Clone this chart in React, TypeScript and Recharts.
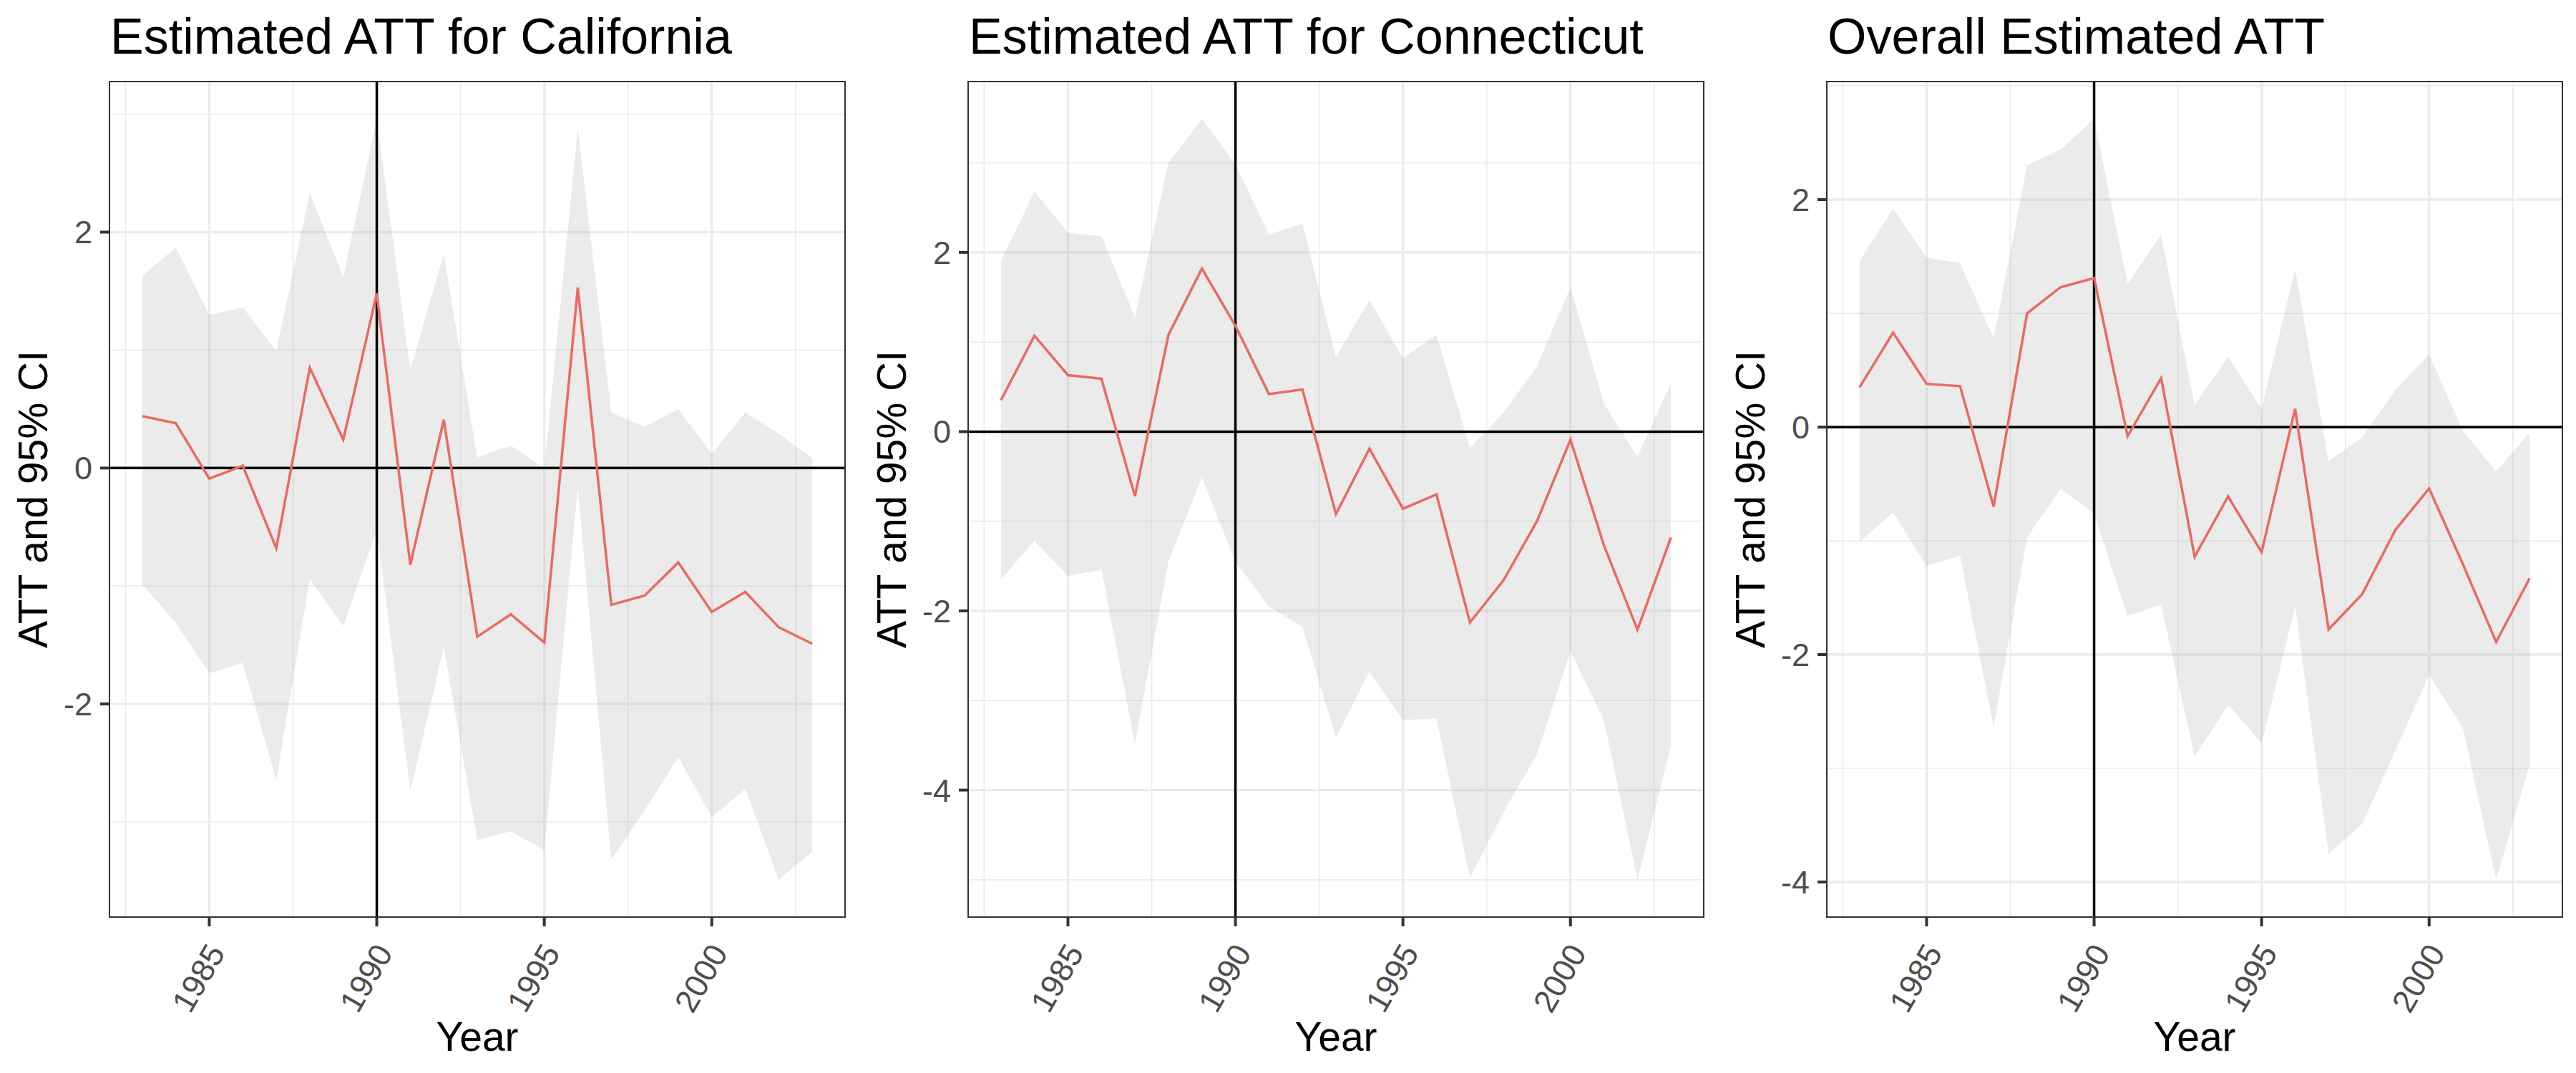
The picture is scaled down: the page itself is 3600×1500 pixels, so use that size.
import { ComposedChart, Line, Area, XAxis, YAxis, CartesianGrid, ReferenceLine } from 'recharts';

document.body.style.margin = '0';

const years = [1983, 1984, 1985, 1986, 1987, 1988, 1989, 1990, 1991, 1992, 1993, 1994, 1995, 1996, 1997, 1998, 1999, 2000, 2001, 2002, 2003];

const caAtt = [0.44, 0.38, -0.09, 0.02, -0.68, 0.85, 0.24, 1.48, -0.82, 0.41, -1.43, -1.24, -1.48, 1.53, -1.16, -1.08, -0.8, -1.22, -1.05, -1.35, -1.49];
const caUpper = [1.63, 1.87, 1.3, 1.36, 0.99, 2.33, 1.62, 2.96, 0.83, 1.81, 0.09, 0.19, 0.0, 2.88, 0.47, 0.35, 0.5, 0.12, 0.47, 0.29, 0.08];
const caLower = [-0.99, -1.31, -1.74, -1.65, -2.64, -0.94, -1.34, -0.52, -2.74, -1.52, -3.15, -3.08, -3.24, -0.16, -3.32, -2.9, -2.45, -2.96, -2.72, -3.49, -3.25];

const ctAtt = [0.35, 1.07, 0.63, 0.59, -0.72, 1.08, 1.82, 1.18, 0.42, 0.47, -0.92, -0.19, -0.86, -0.7, -2.13, -1.66, -1.0, -0.09, -1.27, -2.21, -1.18];
const ctUpper = [1.9, 2.68, 2.22, 2.18, 1.28, 3.0, 3.49, 2.98, 2.2, 2.32, 0.83, 1.47, 0.82, 1.08, -0.18, 0.21, 0.73, 1.61, 0.31, -0.28, 0.54];
const ctLower = [-1.65, -1.22, -1.61, -1.54, -3.48, -1.45, -0.51, -1.45, -1.95, -2.18, -3.41, -2.68, -3.22, -3.2, -4.98, -4.25, -3.6, -2.45, -3.22, -5.0, -3.5];

const allAtt = [0.35, 0.83, 0.38, 0.36, -0.7, 1.0, 1.23, 1.31, -0.08, 0.43, -1.14, -0.61, -1.1, 0.16, -1.78, -1.47, -0.9, -0.54, -1.2, -1.89, -1.33];
const allUpper = [1.46, 1.92, 1.49, 1.44, 0.78, 2.3, 2.44, 2.71, 1.26, 1.69, 0.19, 0.62, 0.16, 1.39, -0.3, -0.09, 0.33, 0.64, -0.03, -0.39, -0.05];
const allLower = [-1.01, -0.75, -1.22, -1.13, -2.64, -0.97, -0.54, -0.76, -1.66, -1.56, -2.9, -2.44, -2.78, -1.58, -3.75, -3.49, -2.84, -2.18, -2.64, -3.98, -2.97];

const xTicks = [1985, 1990, 1995, 2000];
const xMinor = [1982.5, 1987.5, 1992.5, 1997.5, 2002.5];
const xDomain = [1982, 2004];

const caYTicks = [-2, 0, 2];
const caYMinor = [-3, -1, 1, 3];
const ctYTicks = [-4, -2, 0, 2];
const ctYMinor = [-5, -3, -1, 1, 3];
const allYTicks = [-4, -2, 0, 2];
const allYMinor = [-3, -1, 1, 3];

const treatYear = 1990;

const FONT = '"Liberation Sans", Arial, Helvetica, sans-serif';
const W = 1200;
const H = 1500;
const PLOT = { left: 152, top: 113, right: 1182, bottom: 1283 };

function buildRows(att: number[], lower: number[], upper: number[]) {
  return years.map((year, i) => ({ year, att: att[i], band: [lower[i], upper[i]] }));
}

// ggplot-style 5% expansion of the data range
function expand(lower: number[], upper: number[]) {
  const lo = Math.min(...lower);
  const hi = Math.max(...upper);
  const pad = (hi - lo) * 0.05;
  return [lo - pad, hi + pad];
}

function XTick(props: any) {
  const { x, y, payload } = props;
  const ax = x + 10;
  const ay = y + 29;
  return (
    <text
      x={ax}
      y={ay}
      transform={`rotate(-60, ${ax}, ${ay})`}
      textAnchor="end"
      dominantBaseline="central"
      fontSize={45}
      fontFamily={FONT}
      fill="#4D4D4D"
    >
      {payload.value}
    </text>
  );
}

function Panel({ title, att, lower, upper, yTicks, yMinor }: {
  title: string; att: number[]; lower: number[]; upper: number[]; yTicks: number[]; yMinor: number[];
}) {
  const rows = buildRows(att, lower, upper);
  const yDomain = expand(lower, upper);
  return (
    <div style={{ position: 'relative', width: W, height: H }}>
      <ComposedChart
        width={W}
        height={H}
        data={rows}
        margin={{ top: PLOT.top, right: W - PLOT.right, bottom: 0, left: 0 }}
      >
        <CartesianGrid stroke="#EBEBEB" strokeWidth={1.7} horizontalValues={yMinor} verticalValues={xMinor} />
        <CartesianGrid stroke="#EBEBEB" strokeWidth={3.3} horizontalValues={yTicks} verticalValues={xTicks} />
        <XAxis
          type="number"
          dataKey="year"
          domain={xDomain}
          ticks={xTicks}
          allowDataOverflow
          height={H - PLOT.bottom}
          axisLine={false}
          tickSize={12}
          tickMargin={0}
          tickLine={{ stroke: '#333333', strokeWidth: 4 }}
          tick={<XTick />}
        />
        <YAxis
          type="number"
          domain={yDomain}
          ticks={yTicks}
          allowDataOverflow
          width={PLOT.left}
          axisLine={false}
          tickSize={12}
          tickMargin={11}
          tickLine={{ stroke: '#333333', strokeWidth: 4 }}
          tick={{ fontSize: 45, fontFamily: FONT, fill: '#4D4D4D' }}
        />
        <Area
          type="linear"
          dataKey="band"
          stroke="none"
          fill="#B0B0B0"
          fillOpacity={0.25}
          isAnimationActive={false}
        />
        <ReferenceLine x={treatYear} stroke="#000000" strokeWidth={3.5} />
        <ReferenceLine y={0} stroke="#000000" strokeWidth={3.5} />
        <Line
          type="linear"
          dataKey="att"
          stroke="#E96A61"
          strokeWidth={3.5}
          dot={false}
          activeDot={false}
          isAnimationActive={false}
        />
      </ComposedChart>
      <svg width={W} height={H} style={{ position: 'absolute', left: 0, top: 0, pointerEvents: 'none' }}>
        <rect
          x={PLOT.left + 1}
          y={PLOT.top + 1}
          width={PLOT.right - PLOT.left - 2}
          height={PLOT.bottom - PLOT.top - 2}
          fill="none"
          stroke="#333333"
          strokeWidth={2}
        />
        <text x={154} y={75} fontSize={70} fontFamily={FONT} fill="#000000">{title}</text>
        <text x={(PLOT.left + PLOT.right) / 2} y={1469} fontSize={57} fontFamily={FONT} fill="#000000" textAnchor="middle">Year</text>
        <text
          x={66}
          y={(PLOT.top + PLOT.bottom) / 2}
          transform={`rotate(-90, 66, ${(PLOT.top + PLOT.bottom) / 2})`}
          fontSize={57}
          fontFamily={FONT}
          fill="#000000"
          textAnchor="middle"
        >
          ATT and 95% CI
        </text>
      </svg>
    </div>
  );
}

export default function App() {
  return (
    <div style={{ display: 'flex', width: 3600, height: 1500, background: '#FFFFFF' }}>
      <Panel title="Estimated ATT for California" att={caAtt} lower={caLower} upper={caUpper} yTicks={caYTicks} yMinor={caYMinor} />
      <Panel title="Estimated ATT for Connecticut" att={ctAtt} lower={ctLower} upper={ctUpper} yTicks={ctYTicks} yMinor={ctYMinor} />
      <Panel title="Overall Estimated ATT" att={allAtt} lower={allLower} upper={allUpper} yTicks={allYTicks} yMinor={allYMinor} />
    </div>
  );
}
